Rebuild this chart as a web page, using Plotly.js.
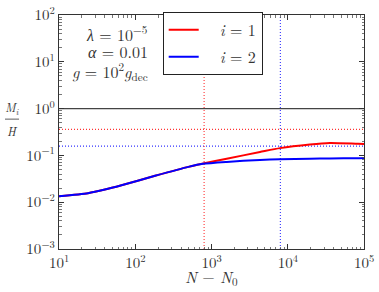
<!DOCTYPE html>
<html>
<head>
<meta charset="utf-8">
<script src="https://cdn.plot.ly/plotly-3.0.1.min.js"></script>
<style>html,body{margin:0;padding:0;background:#fff;}#chart{width:379px;height:292px;}</style>
</head>
<body>
<div id="chart"></div>
<script>
// Data
const steps = [10, 24, 40, 66, 182, 497, 774, 1581, 4325, 7900, 19500, 35800, 83000, 100000];
const mRed  = [0.0134, 0.0156, 0.0186, 0.023, 0.0367, 0.0569, 0.067, 0.085, 0.118, 0.143, 0.171, 0.184, 0.177, 0.176];
const mBlue = [0.0134, 0.0156, 0.0186, 0.023, 0.0367, 0.0569, 0.066, 0.0726, 0.080, 0.0825, 0.085, 0.086, 0.087, 0.088];
const seriesNames = ['&nbsp;&nbsp;<i>i</i> = 1', '&nbsp;&nbsp;<i>i</i> = 2'];
const unityLevel = [1];
const redLevel = [0.36];
const blueLevel = [0.158];
const redStep = [800];
const blueStep = [8000];
const xLimits = [10, 100000];
const yLimits = [0.001, 100];
const xDecades = [1, 2, 3, 4, 5];
const yDecades = [-3, -2, -1, 0, 1, 2];
const params = ['<i>λ</i> = 10<sup>−5</sup>', '<i>α</i> = 0.01', '<i>g</i> = 10<sup>2</sup><i>g</i><sub>dec</sub>'];

const serif = 'Latin Modern Roman';

function powLabel(e) { return '10<sup>' + (e < 0 ? '−' + (-e) : e) + '</sup>'; }
function minorVals(decs) {
  const out = [];
  for (let i = 0; i < decs.length - 1; i++) for (let m = 2; m <= 9; m++) out.push(m * Math.pow(10, decs[i]));
  return out;
}

const dotted = '1px,2px';
const traces = [
  {x: xLimits, y: [unityLevel[0], unityLevel[0]], mode: 'lines', line: {color: '#444', width: 1.2}, showlegend: false, hoverinfo: 'skip'},
  {x: xLimits, y: [redLevel[0], redLevel[0]], mode: 'lines', line: {color: '#ff3333', width: 1.1, dash: dotted}, showlegend: false, hoverinfo: 'skip'},
  {x: xLimits, y: [blueLevel[0], blueLevel[0]], mode: 'lines', line: {color: '#3333ff', width: 1.1, dash: dotted}, showlegend: false, hoverinfo: 'skip'},
  {x: [redStep[0], redStep[0]], y: yLimits, mode: 'lines', line: {color: '#ff3333', width: 1.1, dash: dotted}, showlegend: false, hoverinfo: 'skip'},
  {x: [blueStep[0], blueStep[0]], y: yLimits, mode: 'lines', line: {color: '#3333ff', width: 1.1, dash: dotted}, showlegend: false, hoverinfo: 'skip'},
  {x: steps, y: mRed, mode: 'lines', name: seriesNames[0], legendgroup: 'a', line: {color: '#ff0000', width: 2, shape: 'spline', smoothing: 0.6}},
  {x: steps, y: mBlue, mode: 'lines', name: seriesNames[1], legendgroup: 'b', line: {color: '#0000ff', width: 2, shape: 'spline', smoothing: 0.6}}
];

function axis(decs) {
  return {
    type: 'log', tickmode: 'array',
    tickvals: decs.map(e => Math.pow(10, e)), ticktext: decs.map(powLabel),
    showgrid: false, zeroline: false,
    showline: true, linecolor: '#333', linewidth: 1.2, mirror: 'ticks',
    ticks: 'inside', ticklen: 5, tickcolor: '#333', tickwidth: 1,
    minor: {tickmode: 'array', tickvals: minorVals(decs), ticks: 'inside', ticklen: 2.5, tickcolor: '#555', tickwidth: 0.8, showgrid: false},
    tickfont: {family: serif, size: 15, color: '#333'},
    ticklabeloverflow: 'allow',
    range: [decs[0], decs[decs.length - 1]]
  };
}

const layout = {
  width: 379, height: 292,
  margin: {l: 59, r: 15, t: 12, b: 43},
  paper_bgcolor: '#fff', plot_bgcolor: '#fff',
  showlegend: true,
  legend: {x: 0.34, y: 1.013, xanchor: 'left', yanchor: 'top', bgcolor: '#fff', bordercolor: '#222', borderwidth: 1,
           font: {family: serif, size: 16, color: '#333'}, itemwidth: 30, traceorder: 'grouped', tracegroupgap: 3},
  xaxis: axis(xDecades),
  yaxis: axis(yDecades),
  annotations: [
    {xref: 'paper', yref: 'paper', x: 0.298, y: 0.92, xanchor: 'right', yanchor: 'middle', text: params[0], showarrow: false, font: {family: serif, size: 16, color: '#333'}},
    {xref: 'paper', yref: 'paper', x: 0.298, y: 0.844, xanchor: 'right', yanchor: 'middle', text: params[1], showarrow: false, font: {family: serif, size: 16, color: '#333'}},
    {xref: 'paper', yref: 'paper', x: 0.298, y: 0.762, xanchor: 'right', yanchor: 'middle', text: params[2], showarrow: false, font: {family: serif, size: 16, color: '#333'}},
    {xref: 'paper', yref: 'paper', x: 0.5, y: -0.118, xanchor: 'center', yanchor: 'middle', text: '<i>N</i> − <i>N</i><sub>0</sub>', showarrow: false, font: {family: serif, size: 16, color: '#333'}},
    {xref: 'paper', yref: 'paper', x: -0.154, y: 0.557, xanchor: 'center', yanchor: 'bottom', text: '<i>M<sub>i</sub></i>', showarrow: false, font: {family: serif, size: 12, color: '#333'}},
    {xref: 'paper', yref: 'paper', x: -0.154, y: 0.553, xanchor: 'center', yanchor: 'top', text: '<i>H</i>', showarrow: false, font: {family: serif, size: 12, color: '#333'}}
  ],
  shapes: [
    {type: 'line', xref: 'paper', yref: 'paper', x0: -0.177, x1: -0.131, y0: 0.555, y1: 0.555, line: {color: '#333', width: 0.8}}
  ]
};

Plotly.newPlot('chart', traces, layout, {displayModeBar: false, staticPlot: true});
</script>
</body>
</html>
